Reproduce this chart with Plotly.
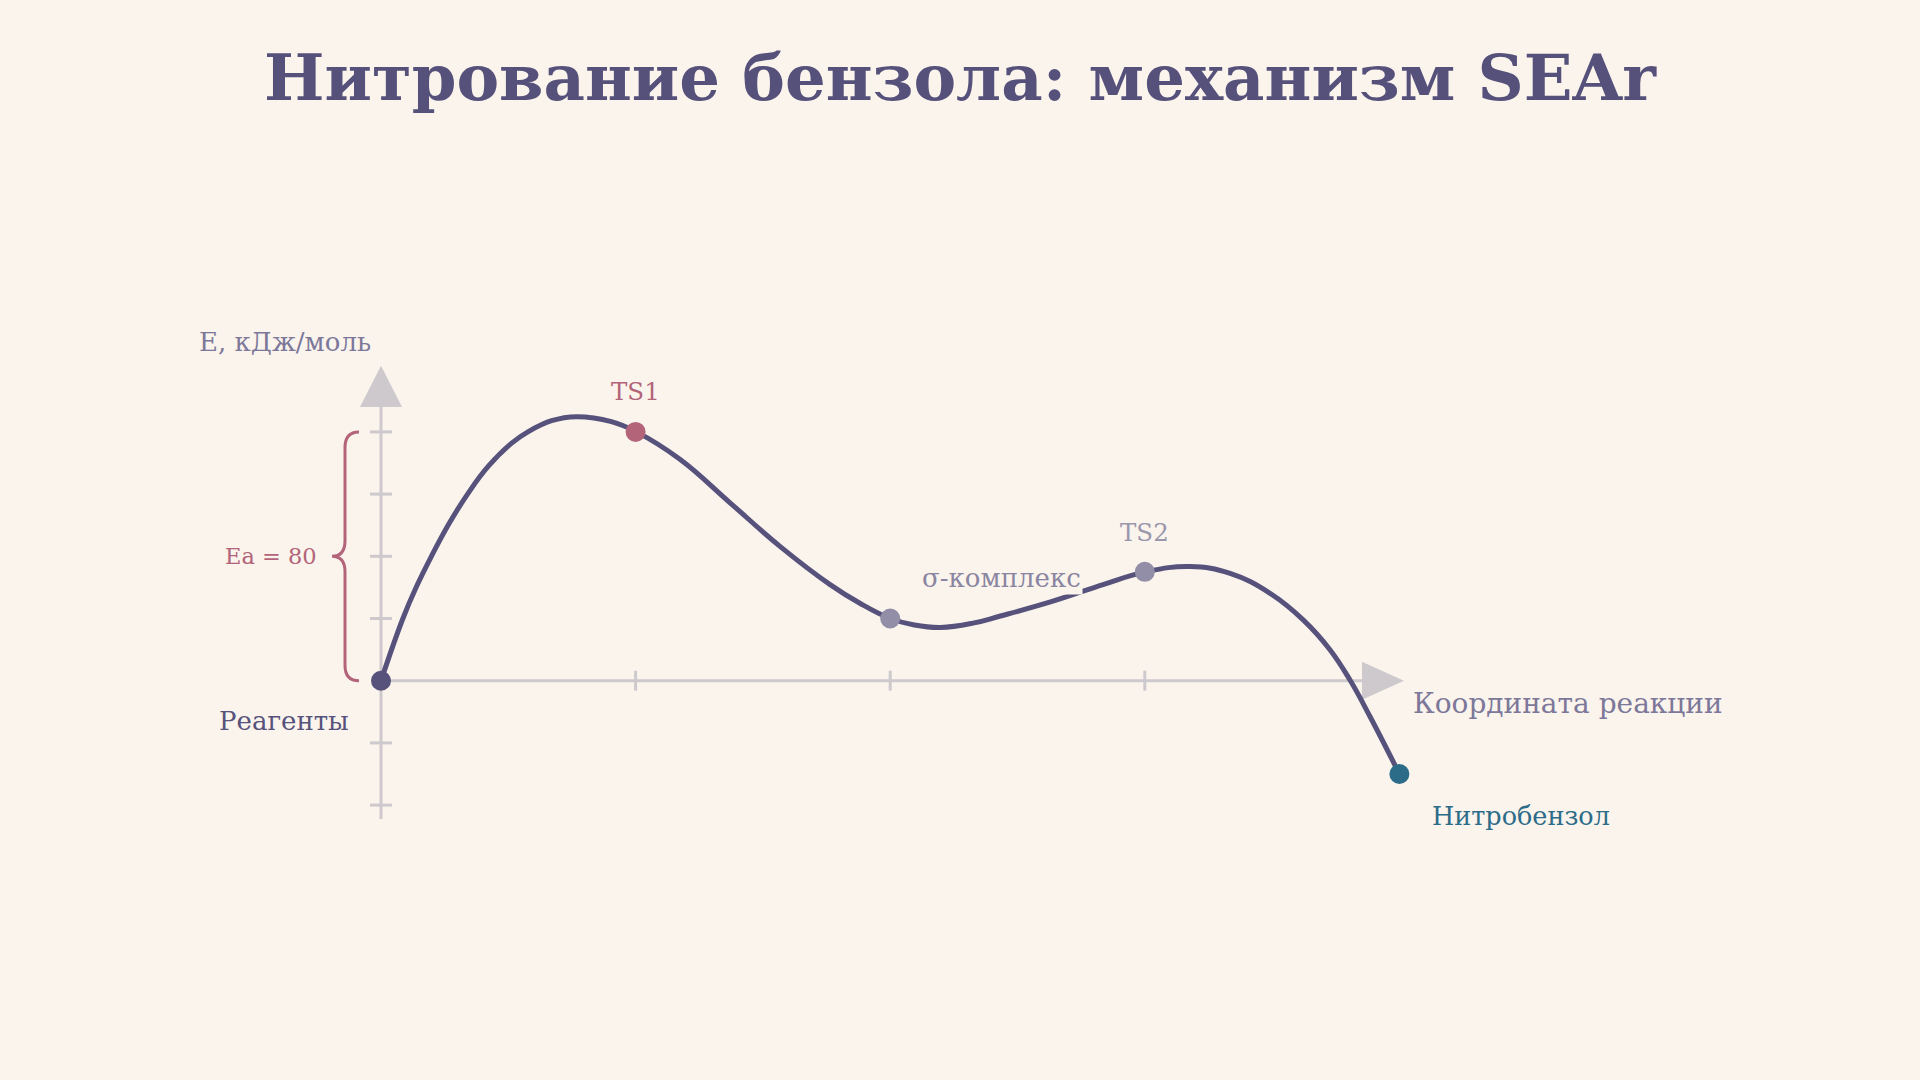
import plotly.graph_objects as go

# ---- data ----
stage_x = [0, 1, 2, 3, 4]
stage_e = [0, 80, 20, 35, -30]
stage_names = ["Реагенты", "TS1", "σ-комплекс", "TS2", "Нитробензол"]
stage_colors = ["#57527c", "#b36479", "#928ea8", "#928ea8", "#2d6c88"]

# energy profile
curve_x = [0, 0.086, 0.139, 0.198, 0.268, 0.340, 0.420, 0.512, 0.577, 0.670, 0.767, 0.905, 1.003,
           1.174, 1.371, 1.567, 1.764, 1.881, 2.0, 2.095, 2.197, 2.325, 2.433, 2.636, 2.839,
           3.003, 3.178, 3.335, 3.492, 3.623, 3.728, 3.806, 3.885, 4.0]
curve_e = [0, 20, 30.2, 40, 50.6, 60, 68.8, 76.3, 80, 83.6, 84.9, 83.3, 80,
           71.2, 57.2, 43.2, 30.9, 24.9, 20, 17.9, 17.1, 18.5, 20.8, 25.5, 31.0,
           35.0, 36.7, 34.5, 28.1, 19.5, 9.9, 0.2, -11.6, -30]

y_ticks = [-40, -20, 20, 40, 60, 80]
x_ticks = [1, 2, 3]
ea_value = 80

BG = "#faf4ed"
AXIS = "#cdc9cd"
FONT = "DejaVu Serif"

# pixel mapping helpers (layout only)
X0_PX, X_UNIT = 381.0, 254.6
Y0_PX, Y_UNIT = 680.7, 3.11
W, H = 1920, 1080
x_range = [-X0_PX / X_UNIT, (W - X0_PX) / X_UNIT]
y_range = [(Y0_PX - H) / Y_UNIT, Y0_PX / Y_UNIT]
dx = 1.0 / X_UNIT  # data per pixel
dy = 1.0 / Y_UNIT

fig = go.Figure()

shapes = []
shapes.append(dict(type="line", x0=0, x1=0, y0=-44.5, y1=90, line=dict(color=AXIS, width=3), layer="below"))
shapes.append(dict(type="line", x0=0, x1=3.86, y0=0, y1=0, line=dict(color=AXIS, width=3), layer="below"))
shapes.append(dict(type="path",
                   path=f"M {-21*dx},{88} L {21*dx},{88} L 0,{101.3} Z",
                   fillcolor=AXIS, line=dict(width=0), layer="below"))
shapes.append(dict(type="path",
                   path=f"M 3.853,{19*dy} L 3.853,{-19*dy} L 4.018,0 Z",
                   fillcolor=AXIS, line=dict(width=0), layer="below"))
for t in y_ticks:
    shapes.append(dict(type="line", x0=-11*dx, x1=11*dx, y0=t, y1=t,
                       line=dict(color=AXIS, width=3), layer="below"))
for t in x_ticks:
    shapes.append(dict(type="line", x0=t, x1=t, y0=-10*dy, y1=10*dy,
                       line=dict(color=AXIS, width=3), layer="below"))
# brace for Ea
bx_end = -22*dx
bx_mid = -36*dx
bx_tip = -49*dx
r = 5
ym = ea_value/2
brace = (f"M {bx_end},{ea_value} Q {bx_mid},{ea_value} {bx_mid},{ea_value-r} "
         f"L {bx_mid},{ym+r} Q {bx_mid},{ym} {bx_tip},{ym} "
         f"Q {bx_mid},{ym} {bx_mid},{ym-r} L {bx_mid},{r} Q {bx_mid},0 {bx_end},0")
shapes.append(dict(type="path", path=brace, line=dict(color="#b36479", width=3)))

fig.add_trace(go.Scatter(x=curve_x, y=curve_e, mode="lines",
                         line=dict(color="#57527c", width=5, shape="spline", smoothing=1.2),
                         hoverinfo="skip", showlegend=False))
fig.add_trace(go.Scatter(x=stage_x, y=stage_e, mode="markers",
                         marker=dict(color=stage_colors, size=20, line=dict(width=0)),
                         text=stage_names, hoverinfo="text", showlegend=False))

ann = []
def A(text, x, y, color, size, xanchor="center", yanchor="middle", bg=None):
    d = dict(text=text, x=x, y=y, xref="x", yref="y", showarrow=False,
             font=dict(family=FONT, size=size, color=color), xanchor=xanchor, yanchor=yanchor)
    if bg:
        d["bgcolor"] = bg
    ann.append(d)

A(stage_names[0], -0.118, -13, "#57527c", 26, xanchor="right")
A(stage_names[1], stage_x[1], 93.1, "#b36479", 24.5)
A(stage_names[2], 2.117, 33, "#8a85a0", 26, xanchor="left", bg=BG)
A(stage_names[3], stage_x[3], 47.7, "#9a96ab", 24.5)
A(stage_names[4], 4.12, -43.5, "#2d6c88", 25.5, xanchor="left")
A("Е, кДж/моль", -0.377, 109, "#7d7899", 26)
A("Координата реакции", 4.045, -7.2, "#7d7899", 28, xanchor="left")
A(f"Ea = {ea_value}", -0.245, ea_value/2, "#b36479", 22.5, xanchor="right")

fig.update_layout(
    width=W, height=H, autosize=False,
    margin=dict(l=0, r=0, t=0, b=0),
    paper_bgcolor=BG, plot_bgcolor=BG,
    xaxis=dict(range=x_range, visible=False, fixedrange=True),
    yaxis=dict(range=y_range, visible=False, fixedrange=True),
    shapes=shapes, annotations=ann,
    title=dict(text="<b>Нитрование бензола: механизм SEAr</b>", x=0.5, xanchor="center",
               y=1 - 78/H, yanchor="middle",
               font=dict(family=FONT, size=64, color="#56517a")),
    showlegend=False,
)

fig.write_html("out.html", config={"displayModeBar": False},
               post_script="document.body.style.margin='0';document.body.style.backgroundColor='#faf4ed';")
